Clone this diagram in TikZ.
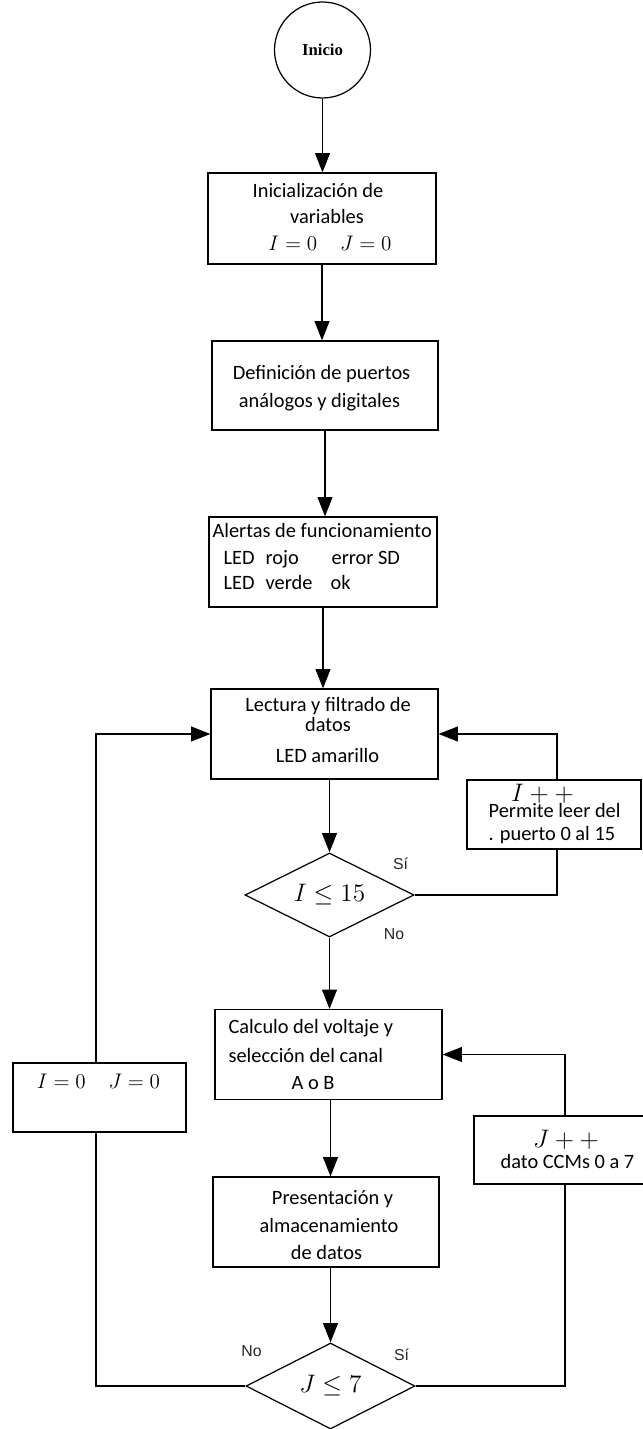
\documentclass[tikz,border=0pt]{standalone}
\usepackage{fontspec}
\setmainfont{Carlito}
\newfontfamily\labfont{Liberation Sans}
\newfontfamily\inifont{Liberation Serif}
\usetikzlibrary{shapes.geometric,arrows.meta}
\begin{document}
\begin{tikzpicture}[x=0.02cm,y=-0.02cm,
  line width=0.7pt,
  every node/.style={font=\fontsize{11.6}{15.3}\selectfont, inner sep=0pt},
  procbox/.style={draw, rectangle},
  decision/.style={draw, diamond, aspect=2, font=\fontsize{14}{16}\selectfont},
  arr/.style={-{Triangle[length=11pt,width=8.5pt]}},
  lbl/.style={font=\labfont\fontsize{9}{10}\selectfont, text=black!85},
  mth/.style={font=\fontsize{13}{15}\selectfont},
  txt/.style={anchor=base},
  txtl/.style={anchor=base west},
]
\useasboundingbox (0,0) rectangle (642,1429);

% ---------- shapes ----------
\node[draw, circle, minimum size=1.92cm, font=\inifont\bfseries\fontsize{9.5}{11}\selectfont] (ini) at (322.5,50) {Inicio};

\node[procbox, minimum width=4.56cm, minimum height=1.82cm] (b1) at (322,218.5) {};
\node[txt] (b1a) at (318,198) {Inicialización de};
\node[txt] (b1b) at (327,224) {variables};
\node[txt, mth] (b1c) at (330,251) {$I=0\quad J=0$};

\node[procbox, minimum width=4.52cm, minimum height=1.78cm] (b2) at (325,385.5) {};
\node[txt] (b2a) at (321.5,379) {Definición de puertos};
\node[txt] (b2b) at (319.5,407) {análogos y digitales};

\node[procbox, minimum width=4.56cm, minimum height=1.80cm] (b3) at (323,562) {};
\node[txtl] (b3a) at (212,537) {Alertas de funcionamiento};
\node[txtl] (b3b) at (223,564) {LED};
\node[txtl] (b3c) at (265,564) {rojo};
\node[txtl] (b3d) at (331,564) {error SD};
\node[txtl] (b3e) at (223,589) {LED};
\node[txtl] (b3f) at (265,589) {verde};
\node[txtl] (b3g) at (330,589) {ok};

\node[procbox, minimum width=4.54cm, minimum height=1.80cm] (b4) at (324.5,734) {};
\node[txt] (b4a) at (328,711) {Lectura y filtrado de};
\node[txt] (b4b) at (328,731) {datos};
\node[txt] (b4c) at (327.5,762) {LED amarillo};

\node[procbox, minimum width=3.48cm, minimum height=1.38cm] (ipp) at (554,814.5) {};
\node[txt, mth, font=\fontsize{14}{16}\selectfont] (ippa) at (542.5,801) {$I++$};
\node[txtl] (ippb) at (488,817) {Permite leer del};
\node[txtl] (ippc) at (488,840) {. puerto 0 al 15};

\node[decision, minimum width=3.38cm, minimum height=1.68cm] (d1) at (329.5,895) {$I\leq 15$};
\node[lbl] (si1) at (400.5,864) {Sí};
\node[lbl] (no1) at (394,934) {No};

\node[procbox, minimum width=4.54cm, minimum height=1.80cm] (calc) at (328.5,1054.5) {};
\node[txtl] (calca) at (228,1033) {Calculo del voltaje y};
\node[txtl] (calcb) at (228,1062) {selección del canal};
\node[txtl] (calcc) at (291,1089) {A o B};

\node[procbox, minimum width=3.46cm, minimum height=1.38cm] (ij) at (99.5,1097.5) {};
\node[txt, mth] (ija) at (98.5,1088) {$I=0\quad J=0$};

\node[procbox, minimum width=3.44cm, minimum height=1.36cm] (jpp) at (560,1150) {};
\node[txt, mth, font=\fontsize{14}{16}\selectfont] (jppa) at (566,1147) {$J++$};
\node[txtl] (jppb) at (500,1168) {dato CCMs 0 a 7};

\node[procbox, minimum width=4.52cm, minimum height=1.80cm] (pres) at (326,1222) {};
\node[txt] (presa) at (332.5,1204) {Presentación y};
\node[txt] (presb) at (329,1232) {almacenamiento};
\node[txt] (presc) at (326.5,1259) {de datos};

\node[decision, minimum width=3.38cm, minimum height=1.72cm] (d2) at (330.5,1386) {$J\leq 7$};
\node[lbl] (no2) at (251.5,1351) {No};
\node[lbl] (si2) at (401.5,1355) {Sí};

% ---------- connectors ----------
\coordinate (c1) at (557,735);
\coordinate (c2) at (96,735);
\coordinate (c3) at (565,1053);

\draw[arr] (ini.south) -- (ini.south |- b1.north);
\draw[arr] (b1.south) -- (b1.south |- b2.north);
\draw[arr] (b2.south) -- (b2.south |- b3.north);
\draw[arr] (b3.south) -- (b3.south |- b4.north);
\draw[arr] (b4.south -| d1.north) -- (d1.north);
\draw[arr] (d1.south) -- (d1.south |- calc.north);
\draw[arr] (calc.south -| d2.north) -- (pres.north -| d2.north);
\draw[arr] (pres.south -| d2.north) -- (d2.north);

\draw (d1.east) -| (ipp.south -| c1);
\draw[arr] (ipp.north -| c1) |- (b4.east);

\draw (d2.west) -| (ij.south -| c2);
\draw[arr] (ij.north -| c2) |- (b4.west);

\draw (d2.east) -| (jpp.south -| c3);
\draw[arr] (jpp.north -| c3) |- (calc.east);
\end{tikzpicture}
\end{document}
